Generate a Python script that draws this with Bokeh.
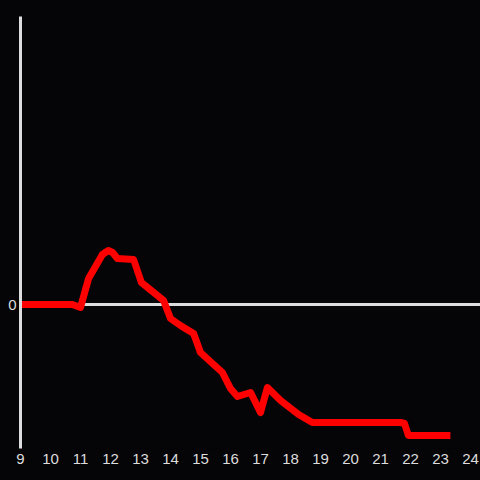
from bokeh.plotting import figure
from bokeh.models import FixedTicker, Span
from bokeh.embed import file_html
from bokeh.resources import INLINE

hours = [9.0, 10.73, 11.0, 11.27, 11.73, 11.93, 12.07, 12.23, 12.77, 13.03, 13.4, 13.77,
         14.0, 14.33, 14.77, 15.0, 15.73, 16.0, 16.23, 16.67, 17.0, 17.23, 17.67, 18.27,
         18.73, 21.67, 21.8, 21.93, 23.33]
values = [0.0, 0.0, -0.3, 2.6, 5.0, 5.4, 5.2, 4.6, 4.5, 2.2, 1.3, 0.4,
          -1.4, -2.1, -2.9, -4.8, -6.8, -8.4, -9.2, -8.8, -10.8, -8.3, -9.6, -11.0,
          -11.8, -11.8, -11.9, -13.1, -13.1]
x_ticks = list(range(9, 25))
y_ticks = [0]

BG = "#050407"
FG = "#dddddd"

p = figure(width=480, height=480, output_backend="svg", toolbar_location=None,
           x_range=(9, 24.333), y_range=(-14.4, 28.8),
           background_fill_color=BG, border_fill_color=BG,
           min_border_left=20, min_border_right=0, min_border_top=16, min_border_bottom=32)
p.outline_line_color = None
p.xgrid.visible = False
p.ygrid.visible = False

p.xaxis.ticker = FixedTicker(ticks=x_ticks)
p.xaxis.axis_line_color = None
p.xaxis.major_tick_line_color = None
p.xaxis.major_tick_out = 0
p.xaxis.major_tick_in = 0
p.xaxis.minor_tick_line_color = None
p.xaxis.minor_tick_out = 0
p.xaxis.major_label_text_color = FG
p.xaxis.major_label_text_font = "Liberation Sans"
p.xaxis.major_label_text_font_size = "15px"
p.xaxis.major_label_standoff = 5

p.yaxis.ticker = FixedTicker(ticks=y_ticks)
p.yaxis.axis_line_color = FG
p.yaxis.axis_line_width = 3
p.yaxis.major_tick_line_color = None
p.yaxis.major_tick_out = 0
p.yaxis.major_tick_in = 0
p.yaxis.minor_tick_line_color = None
p.yaxis.minor_tick_out = 0
p.yaxis.major_label_text_color = FG
p.yaxis.major_label_text_font = "Liberation Sans"
p.yaxis.major_label_text_font_size = "15px"
p.yaxis.major_label_standoff = 4

p.add_layout(Span(location=0, dimension="width", line_color=FG, line_width=3, level="underlay"))

p.line(hours, values, line_color="#ff0000", line_width=7, line_join="round")

html = file_html(p, INLINE)
html = html.replace("<head>", "<head><style>html,body{margin:0;padding:0;background:#050407;}</style>", 1)
open("out.html", "w").write(html)
